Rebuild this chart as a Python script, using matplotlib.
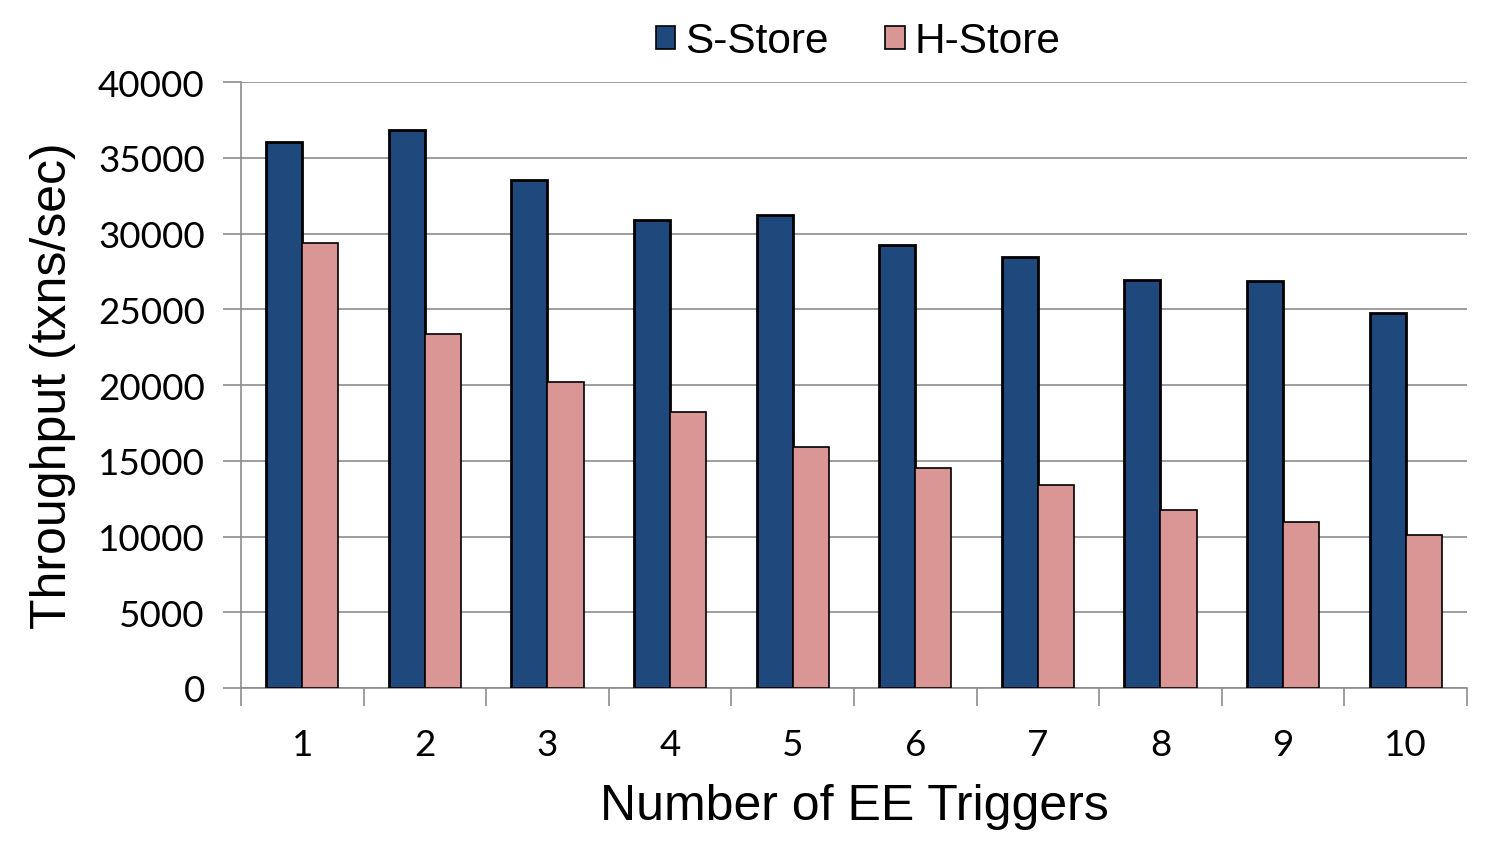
import numpy as np
import matplotlib
matplotlib.use('Agg')
import matplotlib.pyplot as plt
from matplotlib.patches import Patch
from matplotlib.ticker import FixedLocator, NullFormatter

categories = ['1', '2', '3', '4', '5', '6', '7', '8', '9', '10']
s_store = [36050, 36800, 33550, 30900, 31200, 29250, 28450, 26950, 26850, 24750]
h_store = [29350, 23350, 20200, 18250, 15900, 14500, 13400, 11750, 10950, 10100]
y_ticks = [0, 5000, 10000, 15000, 20000, 25000, 30000, 35000, 40000]

grid_col = '#8c8c8c'
s_col = '#1F497D'
h_col = '#D99694'
tick_font = 'Lato'
label_font = 'Liberation Sans'

fig = plt.figure(figsize=(15.04, 8.62), dpi=100)
ax = fig.add_axes([0.1602, 0.2007, 0.8152, 0.703])

x = np.arange(len(categories))
w = 0.294
ax.bar(x - w / 2, s_store, w, color=s_col, edgecolor='black',
       linewidth=2.0, zorder=3)
ax.bar(x + w / 2, h_store, w, color=h_col, edgecolor='black',
       linewidth=1.2, zorder=3)

ax.set_xlim(-0.5, len(categories) - 0.5)
ax.set_ylim(0, 40000)
ax.set_yticks(y_ticks)
ax.set_yticklabels([str(v) for v in y_ticks], fontfamily=tick_font, fontsize=26.5)
ax.yaxis.grid(True, color=grid_col, linewidth=1.2, zorder=0)

ax.set_xticks(x)
ax.set_xticklabels(categories, fontfamily=tick_font, fontsize=26.5)
ax.tick_params(axis='x', which='major', length=0, pad=29)
ax.xaxis.set_minor_locator(FixedLocator(np.arange(-0.5, len(categories), 1.0)))
ax.xaxis.set_minor_formatter(NullFormatter())
ax.tick_params(axis='x', which='minor', length=13, width=1.2, color=grid_col)
ax.tick_params(axis='y', length=13, width=1.2, color=grid_col, pad=13)

for s in ['top', 'right']:
    ax.spines[s].set_visible(False)
for s in ['left', 'bottom']:
    ax.spines[s].set_color(grid_col)
    ax.spines[s].set_linewidth(1.2)

ax.set_ylabel('Throughput (txns/sec)', fontfamily=label_font, fontsize=36, labelpad=16)
ax.set_xlabel('Number of EE Triggers', fontfamily=label_font, fontsize=36, labelpad=16)

handles = [Patch(facecolor=s_col, edgecolor='black', linewidth=1.2, label='S-Store'),
           Patch(facecolor=h_col, edgecolor='black', linewidth=1.2, label='H-Store')]
fig.legend(handles=handles, loc='center', bbox_to_anchor=(0.5705, 0.951),
           ncol=2, frameon=False, prop={'family': label_font, 'size': 30.5},
           handlelength=0.47, handleheight=0.47, handletextpad=0.22,
           columnspacing=1.35)

fig.savefig('out.png', dpi=100)
